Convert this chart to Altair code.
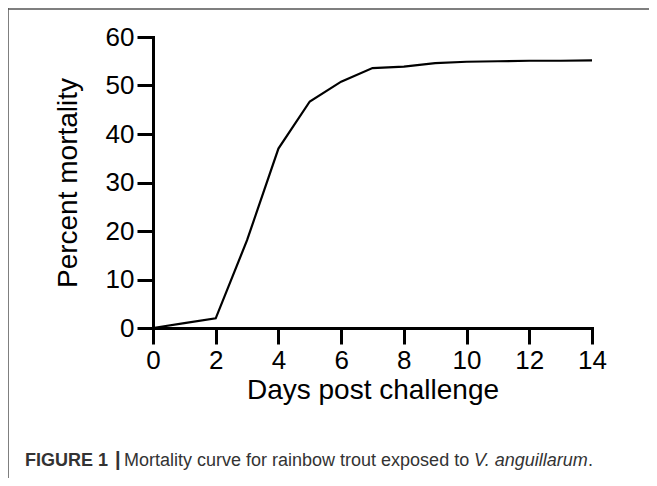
import altair as alt
import pandas as pd

# Data
days = [0, 1, 2, 3, 4, 5, 6, 7, 8, 9, 10, 11, 12, 13, 14]
mortality = [0, 1.0, 2.0, 18.1, 37.0, 46.7, 50.8, 53.6, 53.9, 54.6, 54.9, 55.0, 55.1, 55.1, 55.2]
x_ticks = [0, 2, 4, 6, 8, 10, 12, 14]
y_ticks = [0, 10, 20, 30, 40, 50, 60]
x_title = "Days post challenge"
y_title = "Percent mortality"
caption_parts = ["FIGURE 1", "|", "Mortality curve for rainbow trout exposed to ", "V. anguillarum", "."]

df = pd.DataFrame({"day": days, "mortality": mortality})

W, H = 439, 291
FONT = "Liberation Sans"

line = alt.Chart(df).mark_line(color="black", strokeWidth=2.2).encode(
    x=alt.X("day:Q",
            scale=alt.Scale(domain=[0, 14], nice=False),
            axis=alt.Axis(values=x_ticks, title=x_title, format="d",
                          titleX=W / 2, titleY=70, titleBaseline="alphabetic",
                          titleAlign="center")),
    y=alt.Y("mortality:Q",
            scale=alt.Scale(domain=[0, 60], nice=False),
            axis=alt.Axis(values=y_ticks, title=y_title, format="d",
                          titleX=-77, titleY=H / 2, titleAngle=-90,
                          titleBaseline="alphabetic", titleAlign="center")),
)

# figure frame (top and left edges visible)
frame_top = alt.Chart().mark_rule(color="#555555", strokeWidth=1.5).encode(
    x=alt.value(-146), x2=alt.value(W + 80), y=alt.value(-28))
frame_left = alt.Chart().mark_rule(color="#555555", strokeWidth=1.5).encode(
    x=alt.value(-145), y=alt.value(-29), y2=alt.value(H + 200))

cap_y = 429
cap_x = [-128, -38, -29, 321, 435]
cap_styles = [
    dict(fontWeight="bold", fontStyle="normal", fontSize=18),
    dict(fontWeight="bold", fontStyle="normal", fontSize=20),
    dict(fontWeight="normal", fontStyle="normal", fontSize=18),
    dict(fontWeight="normal", fontStyle="italic", fontSize=18),
    dict(fontWeight="normal", fontStyle="normal", fontSize=18),
]
caps = []
for txt, cx, st in zip(caption_parts, cap_x, cap_styles):
    caps.append(
        alt.Chart().mark_text(text=txt, align="left", baseline="alphabetic",
                              font=FONT, color="#333333", **st).encode(
            x=alt.value(cx), y=alt.value(cap_y))
    )

chart = alt.layer(line, frame_top, frame_left, *caps).properties(
    width=W, height=H,
    background="white",
    autosize=alt.AutoSizeParams(type="none"),
    padding={"left": 145, "top": 29, "right": 57, "bottom": 150},
).configure_view(stroke=None).configure_axis(
    domainColor="black", domainWidth=3, tickColor="black", tickWidth=3,
    tickSize=16, labelFont=FONT, labelFontSize=26, labelColor="black",
    labelPadding=3, titleFont=FONT, titleFontSize=28, titleColor="black",
    titleFontWeight="normal", grid=False, domainCap="square", labelFlush=False,
)

chart.save("out.html", embed_options={"renderer": "svg", "actions": False})
